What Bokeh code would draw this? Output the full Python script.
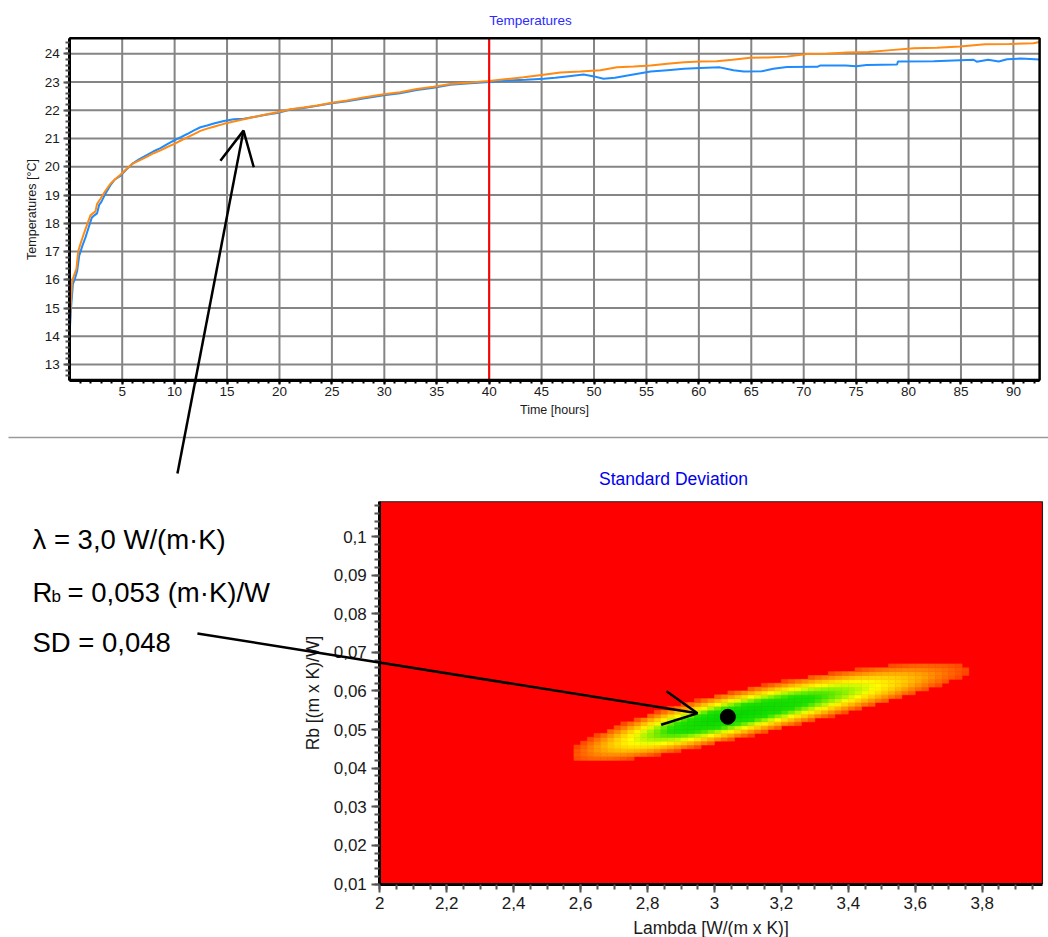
import numpy as np
from bokeh.plotting import figure
from bokeh.models import (Range1d, LinearAxis, FixedTicker, CustomJSTickFormatter,
                          Label, Arrow, OpenHead, ColumnDataSource)
from bokeh.transform import linear_cmap
from bokeh.embed import file_html
from bokeh.resources import INLINE

# ----------------------------------------------------------------- data
# Top chart: measured temperatures (hours, degC)
TIME_ORANGE = [0.0, 0.1, 0.23, 0.45, 0.64, 0.8, 1.0, 1.34, 1.6, 1.97, 2.2, 2.45, 2.6, 2.93,
               3.4, 3.88, 4.3, 4.83, 5.4, 5.95, 6.6, 7.38, 8.0, 8.65, 9.3, 9.92, 10.6, 11.2,
               11.8, 12.46, 13.1, 13.73, 14.7, 15.64, 16.6, 17.55, 18.7, 19.78, 21.05, 22.3,
               23.6, 25.0, 26.45, 28.0, 29.95, 31.5, 33.1, 34.7, 36.3, 38.2, 40.0, 41.5, 43.3,
               45.0, 46.8, 48.7, 50.6, 52.2, 53.8, 55.4, 57.0, 58.6, 60.1, 61.7, 63.2, 64.9,
               66.6, 68.4, 70.3, 72.2, 74.1, 76.2, 78.3, 80.5, 82.7, 84.9, 87.3, 89.6, 91.9, 92.5]
TEMP_ORANGE = [14.35, 15.2, 15.95, 16.2, 16.4, 17.0, 17.25, 17.63, 17.9, 18.28, 18.35, 18.42, 18.68, 18.87,
               19.15, 19.4, 19.55, 19.72, 19.92, 20.1, 20.22, 20.36, 20.48, 20.58, 20.7, 20.8, 20.93, 21.04,
               21.15, 21.27, 21.35, 21.42, 21.52, 21.6, 21.68, 21.76, 21.85, 21.93, 22.04, 22.1,
               22.17, 22.27, 22.35, 22.45, 22.57, 22.64, 22.75, 22.83, 22.93, 22.98, 23.04, 23.1, 23.17,
               23.25, 23.34, 23.37, 23.42, 23.52, 23.55, 23.59, 23.65, 23.7, 23.73, 23.74, 23.79, 23.86,
               23.87, 23.9, 23.99, 24.0, 24.05, 24.06, 24.13, 24.2, 24.21, 24.26, 24.34, 24.35, 24.37, 24.42]

TIME_BLUE = [0.0, 0.1, 0.3, 0.5, 0.7, 0.9, 1.2, 1.5, 1.8, 2.1, 2.35, 2.6, 2.8, 3.0, 3.4, 3.88,
             4.3, 4.83, 5.4, 5.95, 6.6, 7.38, 8.0, 8.65, 9.3, 9.92, 10.6, 11.2, 11.8, 12.46, 13.1,
             13.73, 14.7, 15.64, 16.6, 17.55, 18.7, 19.78, 21.05, 22.3, 23.6, 25.0, 26.45, 28.0,
             29.95, 31.5, 33.1, 34.7, 36.3, 38.2, 40.0, 41.7, 43.5, 45.2, 46.3, 47.4, 49.0, 50.0,
             50.9, 52.0, 53.2, 55.4, 57.0, 58.6, 60.1, 62.0, 63.3, 64.3, 66.0, 67.1, 68.4, 71.3,
             71.6, 74.0, 75.0, 76.0, 78.9, 79.0, 82.4, 86.2, 86.5, 87.6, 88.6, 89.4, 90.7, 92.5]
TEMP_BLUE = [14.15, 14.9, 15.85, 16.05, 16.3, 16.85, 17.2, 17.5, 17.85, 18.2, 18.28, 18.35, 18.65, 18.75, 19.05, 19.35,
             19.55, 19.68, 19.9, 20.1, 20.26, 20.42, 20.55, 20.66, 20.8, 20.93, 21.05, 21.16, 21.28, 21.4, 21.46,
             21.53, 21.62, 21.68, 21.7, 21.76, 21.84, 21.9, 22.03, 22.08, 22.16, 22.25, 22.32, 22.42,
             22.53, 22.6, 22.72, 22.8, 22.9, 22.96, 23.0, 23.05, 23.08, 23.12, 23.15, 23.2, 23.27, 23.2,
             23.12, 23.15, 23.23, 23.37, 23.42, 23.47, 23.5, 23.52, 23.42, 23.37, 23.38, 23.47, 23.53, 23.54,
             23.59, 23.59, 23.56, 23.6, 23.62, 23.73, 23.74, 23.79, 23.72, 23.79, 23.73, 23.81, 23.83, 23.8]

MARK_TIME = 40.0
TIME_TICKS = [5, 10, 15, 20, 25, 30, 35, 40, 45, 50, 55, 60, 65, 70, 75, 80, 85, 90]
TEMP_TICKS = [13, 14, 15, 16, 17, 18, 19, 20, 21, 22, 23, 24]
TIME_LIMITS = (0.0, 92.5)
TEMP_LIMITS = (12.45, 24.55)

# Bottom chart: standard deviation map over (Lambda, Rb)
LAMBDA_TICKS = [2.0, 2.2, 2.4, 2.6, 2.8, 3.0, 3.2, 3.4, 3.6, 3.8]
RB_TICKS = [0.01, 0.02, 0.03, 0.04, 0.05, 0.06, 0.07, 0.08, 0.09, 0.1]
LAMBDA_LIMITS = (2.0, 3.98)
RB_LIMITS = (0.01, 0.109)
LAMBDA_STEP = 0.02
RB_STEP = 0.001
BEST_LAMBDA = 3.04
BEST_RB = 0.0533
# shape of the low-SD valley
VALLEY_SLOPE = 0.0196      # dRb / dLambda along the valley
VALLEY_CURV = 0.0035
VALLEY_HALF_LEFT = 0.47    # Lambda distance to the left edge of the coloured zone
VALLEY_HALF_RIGHT = 0.72   # Lambda distance to the right edge
VALLEY_HALF_WIDTH = 0.0062 # Rb half-thickness at the optimum
SD_COLOURS = [(0.0, (0, 215, 0)), (0.36, (25, 228, 0)), (0.5, (150, 246, 0)), (0.62, (255, 255, 0)),
              (0.75, (255, 196, 0)), (0.88, (255, 128, 0)), (1.0, (255, 70, 0))]

RESULT_LAMBDA = "λ = 3,0 W/(m·K)"
RESULT_RB = "= 0,053 (m·K)/W"
RESULT_SD = "SD = 0,048"

# ----------------------------------------------------------------- page geometry
W, H = 1048, 937
FONT = "Liberation Sans"


def x_range_for(v0, p0, v1, p1):
    s = (p1 - p0) / (v1 - v0)
    return Range1d(v0 - p0 / s, v0 + (W - p0) / s)


def y_range_for(v0, p0, v1, p1):
    s = (p0 - p1) / (v1 - v0)
    return Range1d(v0 - (H - p0) / s, v0 + p0 / s)


p = figure(width=W, height=H, x_range=Range1d(0, W), y_range=Range1d(H, 0),
           x_axis_type=None, y_axis_type=None, toolbar_location=None,
           output_backend="svg", min_border=0, title=None)
p.outline_line_color = None
p.background_fill_color = "white"
p.border_fill_color = "white"

p.extra_x_ranges = {"tx": x_range_for(5, 121.7, 90, 1012.9),
                    "bx": x_range_for(2.0, 379.3, 3.8, 981.7)}
p.extra_y_ranges = {"ty": y_range_for(13, 364.0, 24, 53.3),
                    "by": y_range_for(0.01, 883.5, 0.1, 536.0)}

T = dict(x_range_name="tx", y_range_name="ty")
B = dict(x_range_name="bx", y_range_name="by")

# ----------------------------------------------------------------- top chart
x0, x1 = TIME_LIMITS
y0, y1 = TEMP_LIMITS
GRID = "#858585"
p.segment(x0=TIME_TICKS, y0=[y0] * len(TIME_TICKS), x1=TIME_TICKS, y1=[y1] * len(TIME_TICKS),
          line_color=GRID, line_width=2, **T)
p.segment(x0=[x0] * len(TEMP_TICKS), y0=TEMP_TICKS, x1=[x1] * len(TEMP_TICKS), y1=TEMP_TICKS,
          line_color=GRID, line_width=2, **T)
p.line(TIME_BLUE, TEMP_BLUE, line_color="#1E8CFF", line_width=2, **T)
p.line(TIME_ORANGE, TEMP_ORANGE, line_color="#FF8A14", line_width=2, **T)
p.segment(x0=[MARK_TIME], y0=[y0], x1=[MARK_TIME], y1=[y1], line_color="#FF0000", line_width=2, **T)
p.quad(left=[x0], right=[x1], bottom=[y0], top=[y1], fill_color=None,
       line_color="black", line_width=2.5, **T)


def style_axis(ax, tick_size, label_size, major_out, minor_out, standoff, label_standoff,
               line_width=3, tick_color="#444444"):
    ax.axis_line_width = line_width
    ax.axis_line_color = "black"
    ax.major_tick_in = 0
    ax.minor_tick_in = 0
    ax.major_tick_out = major_out
    ax.minor_tick_out = minor_out
    ax.major_tick_line_width = 2
    ax.minor_tick_line_width = 2
    ax.major_tick_line_color = tick_color
    ax.minor_tick_line_color = tick_color
    ax.major_label_text_font = FONT
    ax.major_label_text_font_size = tick_size
    ax.major_label_text_color = "#1a1a1a"
    ax.major_label_standoff = standoff
    ax.axis_label_text_font = FONT
    ax.axis_label_text_font_size = label_size
    ax.axis_label_text_font_style = "normal"
    ax.axis_label_text_color = "#1a1a1a"
    ax.axis_label_standoff = label_standoff


top_x_axis = LinearAxis(fixed_location=y0, bounds=(x0, x1), axis_label="Time [hours]",
                        ticker=FixedTicker(ticks=TIME_TICKS,
                                           minor_ticks=[float(v) for v in np.arange(1, 93, 1.0)]), **T)
style_axis(top_x_axis, "13.5px", "12.5px", 4, 3, 3, 3, tick_color="black")
p.add_layout(top_x_axis, "below")

top_y_axis = LinearAxis(fixed_location=x0, bounds=(y0, y1), axis_label="Temperatures [°C]",
                        ticker=FixedTicker(ticks=TEMP_TICKS,
                                           minor_ticks=[round(v, 1) for v in np.arange(12.6, 24.55, 0.2)]), **T)
style_axis(top_y_axis, "13.5px", "12.5px", 6, 4, 4, 2, tick_color="#555555")
p.add_layout(top_y_axis, "left")

p.add_layout(Label(x=530, y=20, text="Temperatures", text_align="center", text_baseline="middle",
                   text_font=FONT, text_font_size="13.5px", text_color="#2B2BFF"))

# separator
p.segment(x0=[8], y0=[437], x1=[W], y1=[437], line_color="#9a9a9a", line_width=1.5)

# ----------------------------------------------------------------- bottom chart
lam_c = np.arange(LAMBDA_LIMITS[0] + LAMBDA_STEP / 2, LAMBDA_LIMITS[1], LAMBDA_STEP)
rb_c = np.arange(RB_LIMITS[0] + RB_STEP / 2, RB_LIMITS[1], RB_STEP)
LL, RR = np.meshgrid(lam_c, rb_c)
dl = LL - BEST_LAMBDA
half = np.where(dl < 0, VALLEY_HALF_LEFT, VALLEY_HALF_RIGHT)
centre = BEST_RB + VALLEY_SLOPE * dl - VALLEY_CURV * dl ** 2
level = np.sqrt((dl / half) ** 2 + ((RR - centre) / VALLEY_HALF_WIDTH) ** 2)

palette = []
for i in range(256):
    v = i / 255
    for (a, ca), (b, cb) in zip(SD_COLOURS[:-1], SD_COLOURS[1:]):
        if a <= v <= b:
            f = (v - a) / (b - a)
            rgb = [int(round(ca[k] + f * (cb[k] - ca[k]))) for k in range(3)]
            palette.append("#%02X%02X%02X" % tuple(rgb))
            break

# high-SD cells (level >= 1) share the saturated red; drawn as the map background
p.quad(left=[LAMBDA_LIMITS[0]], right=[LAMBDA_LIMITS[1]], bottom=[RB_LIMITS[0]], top=[RB_LIMITS[1]],
       fill_color="#FF0000", line_color=None, **B)
inside = level.ravel() < 1.0
src = ColumnDataSource(dict(lam=LL.ravel()[inside], rb=RR.ravel()[inside], level=level.ravel()[inside]))
cmap = linear_cmap("level", palette, 0.0, 1.0, high_color="#FF0000")
p.rect(x="lam", y="rb", width=LAMBDA_STEP, height=RB_STEP, source=src,
       fill_color=cmap, line_color=cmap, line_width=0.5, **B)
p.scatter(x=[BEST_LAMBDA], y=[BEST_RB], size=15, color="black", **B)
p.quad(left=[LAMBDA_LIMITS[0]], right=[LAMBDA_LIMITS[1]], bottom=[RB_LIMITS[0]], top=[RB_LIMITS[1]],
       fill_color=None, line_color="#202020", line_width=1.2, **B)

comma = CustomJSTickFormatter(code="return (Math.round(tick*1000)/1000).toString().replace('.', ',');")

bot_x_axis = LinearAxis(fixed_location=RB_LIMITS[0], bounds=LAMBDA_LIMITS, axis_label="Lambda [W/(m x K)]",
                        formatter=comma,
                        ticker=FixedTicker(ticks=LAMBDA_TICKS,
                                           minor_ticks=[round(v, 2) for v in np.arange(2.0, 3.981, 0.05)]), **B)
style_axis(bot_x_axis, "17px", "17.5px", 8, 5, 5, 5, tick_color="#555555")
p.add_layout(bot_x_axis, "below")

bot_y_axis = LinearAxis(fixed_location=LAMBDA_LIMITS[0], bounds=RB_LIMITS, axis_label="Rb [(m x K)/W]",
                        formatter=comma,
                        ticker=FixedTicker(ticks=RB_TICKS,
                                           minor_ticks=[round(v, 3) for v in np.arange(0.01, 0.1091, 0.002)]), **B)
style_axis(bot_y_axis, "17px", "17.5px", 8, 5, 5, 7, tick_color="#555555")
p.add_layout(bot_y_axis, "left")

p.add_layout(Label(x=673, y=478, text="Standard Deviation", text_align="center", text_baseline="middle",
                   text_font=FONT, text_font_size="17.5px", text_color="#0000EE"))

# ----------------------------------------------------------------- annotations
txt = dict(text_font=FONT, text_font_size="27.5px", text_color="black", text_baseline="alphabetic")
p.add_layout(Label(x=32, y=539, text=RESULT_LAMBDA, **txt))
p.add_layout(Label(x=32, y=592, text="R", **txt))
p.add_layout(Label(x=51, y=596, text="b", text_font=FONT, text_font_size="17px",
                   text_color="black", text_baseline="alphabetic"))
p.add_layout(Label(x=67, y=592, text=RESULT_RB, **txt))
p.add_layout(Label(x=32, y=641.5, text=RESULT_SD, **txt))

head = dict(size=34, line_width=2.5, line_color="black")
p.add_layout(Arrow(end=OpenHead(**head), x_start=10.27, y_start=9.14, x_end=16.57, y_end=21.28,
                   line_width=2.5, line_color="black", **T))
p.add_layout(Arrow(end=OpenHead(**head), x_start=1.455, y_start=0.0749, x_end=2.949, y_end=0.0542,
                   line_width=2.5, line_color="black", **B))

open("out.html", "w").write(file_html(p, INLINE))
